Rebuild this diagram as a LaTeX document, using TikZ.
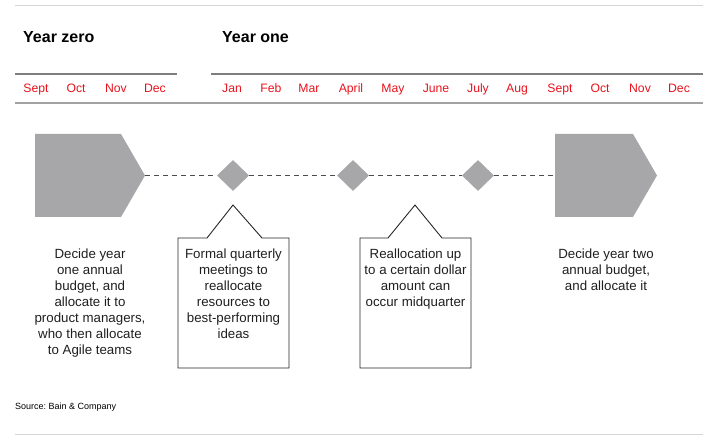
\documentclass[tikz,border=0pt]{standalone}
\usepackage{fontspec}
\setmainfont{Liberation Sans}
\usetikzlibrary{shapes.geometric}
\definecolor{shapegray}{HTML}{A7A7A9}
\definecolor{monthred}{HTML}{E8121C}
\definecolor{rulelight}{HTML}{D6D6D6}
\definecolor{ruledark}{HTML}{7E7E7E}
\definecolor{rulemid}{HTML}{A2A2A2}
\frenchspacing
\begin{document}
\begin{tikzpicture}[x=1pt,y=-1pt,
  month/.style={anchor=base, text=monthred, font=\fontsize{12.2}{14}\selectfont, inner sep=0},
  yearlbl/.style={anchor=base west, font=\fontsize{16}{18}\selectfont\bfseries, inner sep=0},
  body/.style={align=center, font=\fontsize{13.3}{16}\selectfont, inner sep=0, anchor=north, text=black!88},
  milestone/.style={diamond, fill=shapegray, minimum width=32pt, minimum height=31pt, inner sep=0},
  blockshape/.style={fill=shapegray},
  timeline/.style={dash pattern=on 5pt off 4pt, draw=black!70, line width=0.9pt},
  callout/.style={draw=black!85, line width=0.9pt},
]
\useasboundingbox (0,0) rectangle (715,438);

% frame rules
\coordinate (topL) at (15,6);
\coordinate (topR) at (703,6);
\draw[rulelight, line width=1pt] (topL) -- (topR);
\coordinate (botL) at (15,434);
\coordinate (botR) at (703,434);
\draw[rulelight, line width=1pt] (botL) -- (botR);

% year headers
\node[yearlbl] (y0) at (23,43) {Year zero};
\node[yearlbl] (y1) at (222,43) {Year one};
\coordinate (y0L) at (15,74);
\coordinate (y0R) at (177,74);
\coordinate (y1L) at (211,74);
\coordinate (y1R) at (703,74);
\draw[ruledark, line width=1.6pt] (y0L) -- (y0R);
\draw[ruledark, line width=1.6pt] (y1L) -- (y1R);
\coordinate (mL) at (15,103);
\coordinate (mR) at (703,103);
\draw[rulemid, line width=1.8pt] (mL) -- (mR);

% months
\node[month] (m1) at (36,93) {Sept};
\node[month] (m2) at (76,93) {Oct};
\node[month] (m3) at (116,93) {Nov};
\node[month] (m4) at (155,93) {Dec};
\node[month] (m5) at (232,93) {Jan};
\node[month] (m6) at (271,93) {Feb};
\node[month] (m7) at (309,93) {Mar};
\node[month] (m8) at (351,93) {April};
\node[month] (m9) at (393,93) {May};
\node[month] (m10) at (436,93) {June};
\node[month] (m11) at (478,93) {July};
\node[month] (m12) at (517,93) {Aug};
\node[month] (m13) at (560,93) {Sept};
\node[month] (m14) at (600,93) {Oct};
\node[month] (m15) at (640,93) {Nov};
\node[month] (m16) at (679,93) {Dec};

% block arrows
\fill[blockshape] (35,134) -- (121,134) -- (145,175.5) -- (121,217) -- (35,217) -- cycle;
\coordinate (b1tip) at (145,175.5);
\fill[blockshape] (555,134) -- (633,134) -- (657,175.5) -- (633,217) -- (555,217) -- cycle;
\coordinate (b2west) at (555,175.5);

% milestones
\node[milestone] (d1) at (233,175.5) {};
\node[milestone] (d2) at (353,175.5) {};
\node[milestone] (d3) at (478,175.5) {};

\draw[timeline] (b1tip) -- (d1.west);
\draw[timeline] (d1.east) -- (d2.west);
\draw[timeline] (d2.east) -- (d3.west);
\draw[timeline] (d3.east) -- (b2west);

% callouts
\draw[callout] (178,238) -- (207,238) -- (233,205) -- (262,238) -- (289,238) -- (289,368) -- (178,368) -- cycle;
\draw[callout] (360,238) -- (388,238) -- (415,205) -- (442,238) -- (471,238) -- (471,368) -- (360,368) -- cycle;

% texts
\node[body] (t1) at (90,249) {Decide year\\one annual\\budget, and\\allocate it to\\product managers,\\who then allocate\\to Agile teams};
\node[body] (t2) at (233.5,249) {Formal quarterly\\meetings to\\reallocate\\resources to\\best-performing\\ideas};
\node[body] (t3) at (415.5,249) {Reallocation up\\to a certain dollar\\amount can\\occur midquarter};
\node[body] (t4) at (606,249) {Decide year two\\annual budget,\\and allocate it};

\node[anchor=base west, inner sep=0, font=\fontsize{9}{11}\selectfont] (src) at (15,409) {Source: Bain \& Company};
\end{tikzpicture}
\end{document}
